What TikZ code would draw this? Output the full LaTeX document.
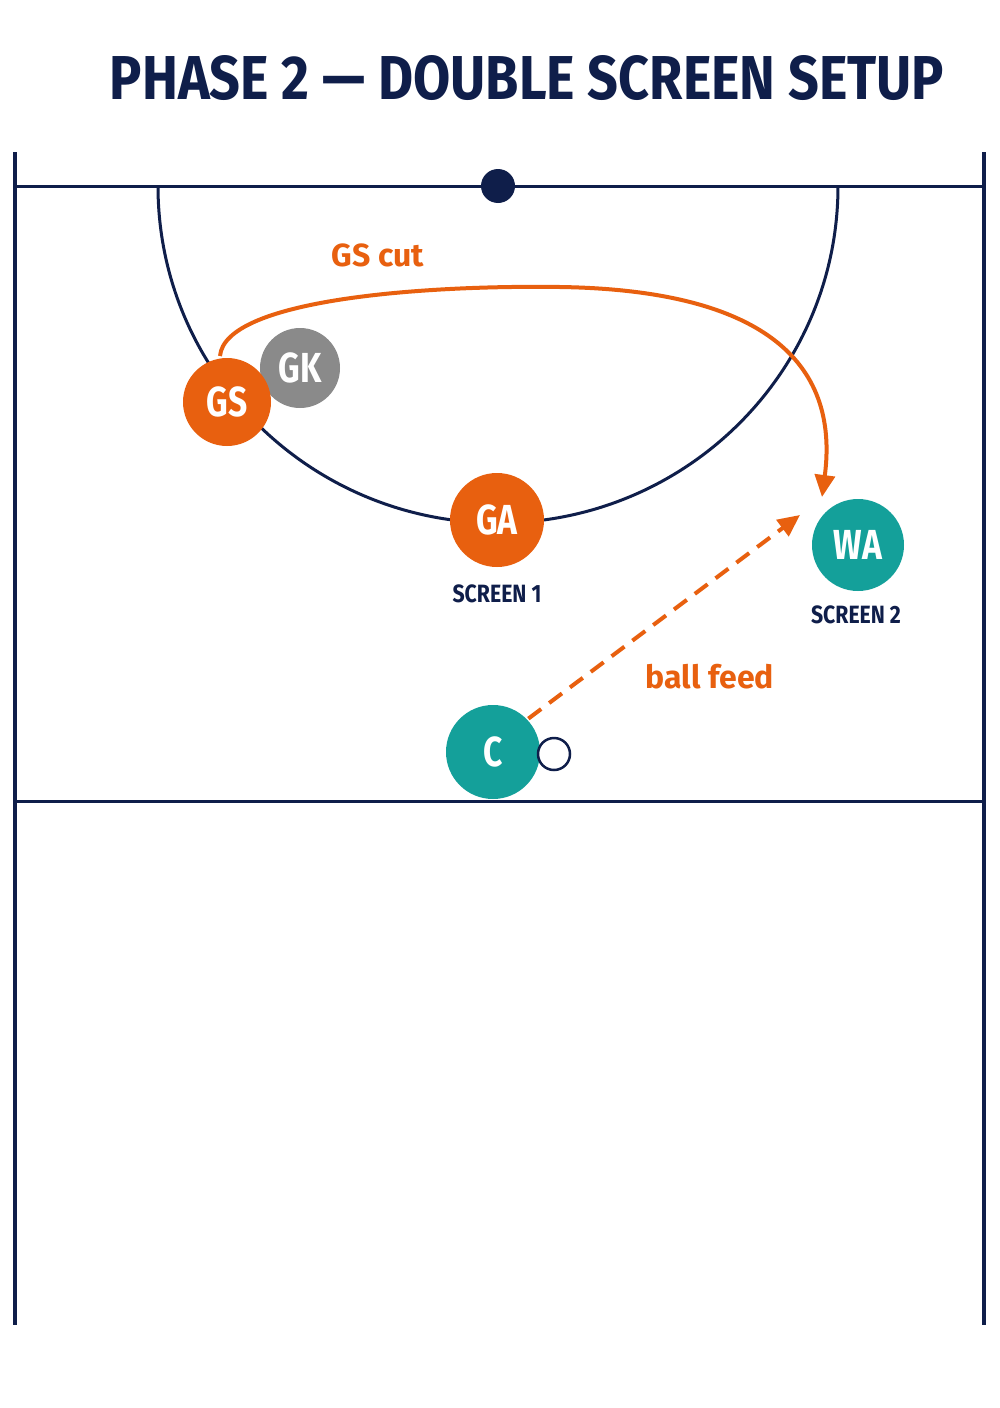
\documentclass[tikz,border=0pt]{standalone}
\usepackage{fontspec}
\setmainfont{Fira Sans}
\usetikzlibrary{arrows.meta}
\definecolor{navy}{HTML}{0F1E4A}
\definecolor{org}{HTML}{E8600F}
\definecolor{teal}{HTML}{14A09A}
\definecolor{gk}{HTML}{8A8A8A}
\tikzset{
 player/.style={circle,minimum size=#1,inner sep=0pt,text=white,font=\fontsize{42}{42}\selectfont\bfseries},
 lbl/.style={text=navy,font=\fontsize{25}{25}\selectfont\bfseries},
 olbl/.style={text=org,font=\fontsize{32}{32}\selectfont\bfseries},
 court/.style={draw=navy,line width=3pt}
}
\begin{document}
\begin{tikzpicture}[x=1pt,y=-1pt]
\useasboundingbox[fill=white] (0,0) rectangle (1000,1408);
\node[text=navy,font=\fontsize{62}{62}\selectfont\bfseries,xscale=0.87] (title) at (527,78) {PHASE 2 — DOUBLE SCREEN SETUP};
\draw[court,line width=4pt] (15,152) -- (15,1325);
\draw[court,line width=4pt] (984,152) -- (984,1325);
\draw[court] (15,186) -- (984,186);
\draw[court] (15,801) -- (984,801);
\draw[court] (158,186) arc[start angle=180,end angle=360,x radius=340,y radius=-337];
\fill[navy] (498,186) circle (17);
\node[player=80pt,fill=gk] (gk) at (300,368) {\scalebox{0.8}[1]{GK}};
\node[player=88pt,fill=org] (gs) at (227,402) {\scalebox{0.8}[1]{GS}};
\node[player=94pt,fill=org] (ga) at (497,520) {\scalebox{0.8}[1]{GA}};
\node[player=92pt,fill=teal] (wa) at (858,545) {\scalebox{0.8}[1]{WA}};
\node[player=94pt,fill=teal] (c) at (493,752) {\scalebox{0.8}[1]{C}};
\node[circle,draw=navy,line width=2.5pt,fill=white,minimum size=32pt,inner sep=0pt] (ball) at (554,754) {};
\node[lbl,xscale=0.85] (s1) at (497,594) {SCREEN 1};
\node[lbl,xscale=0.85] (s2) at (856,615) {SCREEN 2};
\node[olbl] (gscut) at (378,255) {GS cut};
\node[olbl] (bf) at (710,677) {ball feed};
\coordinate (cutend) at (822,497);
\coordinate (feedend) at (800,515);
\draw[org,line width=4pt,-{Triangle[length=22pt,width=20pt]}] (220,356) .. controls (225,300) and (420,285) .. (560,287) .. controls (760,290) and (840,360) .. (cutend);
\draw[org,line width=4pt,dash pattern=on 16pt off 10pt,-{Triangle[length=22pt,width=20pt]}] (c.north east) ++(2,0) -- (feedend);
\end{tikzpicture}
\end{document}
